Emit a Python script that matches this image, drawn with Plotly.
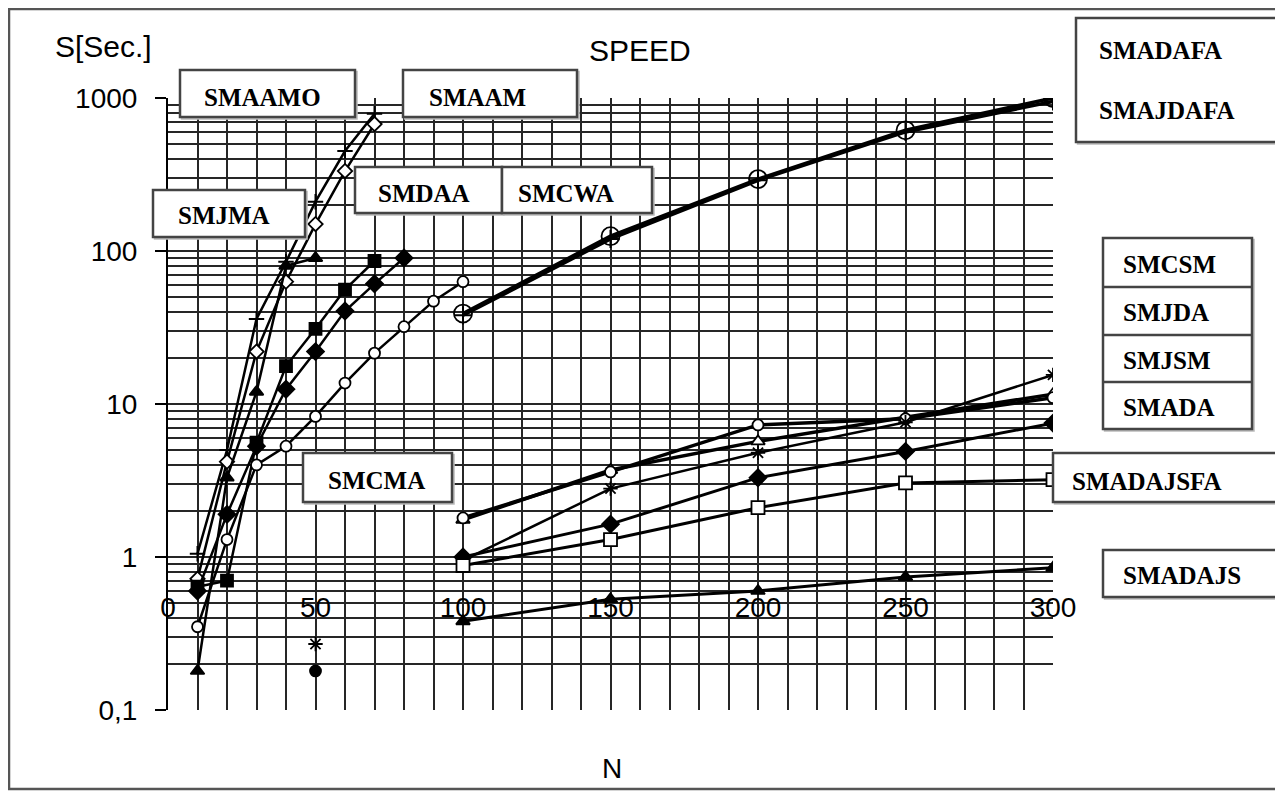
import plotly.graph_objects as go

# ---------------- data ----------------
x_left7 = [10, 20, 30, 40, 50, 60, 70]
smaamo_plus = [1.05, 5.0, 36, 85, 210, 450, 790]
smaam_diam = [0.72, 4.2, 22, 63, 150, 333, 676]
x_tri = [10, 20, 30, 40, 50]
smjma_tri = [0.18, 3.3, 12, 80, 90]
smdaa_sq = [0.64, 0.70, 5.6, 17.7, 31, 56, 86]
x_left8 = [10, 20, 30, 40, 50, 60, 70, 80]
smcwa_fdiam = [0.60, 1.9, 5.3, 12.5, 22, 40.5, 61, 90]
x_left10 = [10, 20, 30, 40, 50, 60, 70, 80, 90, 100]
smcma_circ = [0.35, 1.3, 4.0, 5.3, 8.3, 13.7, 21.5, 32, 47, 63]

x_right = [100, 150, 200, 250, 300]
smadafa_circ = [39, 125, 295, 615, 1000]
smajdafa_plus = [38, 120, 290, 600, 950]
smcsm_tri = [1.75, 3.7, 5.7, 8.2, 11.6]
smjda_circ = [1.8, 3.6, 7.3, 8.0, 11.0]
smjsm_star = [0.95, 2.8, 4.8, 7.6, 15.5]
smada_fdiam = [1.0, 1.64, 3.3, 4.9, 7.5]
smadajsfa_sq = [0.88, 1.3, 2.1, 3.05, 3.2]
smadajs_ftri = [0.38, 0.53, 0.60, 0.74, 0.85]

x_out = [50]
out_star = [0.27]
out_dot = [0.18]

x_major_ticks = [0, 50, 100, 150, 200, 250, 300]
x_minor_grid = [v for v in range(10, 300, 10)]
y_ticks = [0.1, 1, 10, 100, 1000]
y_ticktext = ["0,1", "1", "10", "100", "1000"]
y_minor = [m * 10 ** e for e in range(-1, 3) for m in range(2, 10)]

# ---------------- geometry helpers ----------------
OFF = 8  # page body margin
W, H = 1283 - OFF, 792 - OFF
L, R, T, B = 168, 1053, 98, 710  # target pixel positions of plot area


def px(xp):
    return (xp - L) / (R - L)


def py(yp):
    return (B - yp) / (B - T)


fig = go.Figure()


def add(x, y, symbol, fill, size=9, lw=2.5, mlw=1.8, mode="lines+markers", name=""):
    fig.add_trace(go.Scatter(
        x=x, y=y, mode=mode, name=name,
        line=dict(color="black", width=lw),
        marker=dict(symbol=symbol, size=size, color=fill,
                    line=dict(color="black", width=mlw)),
        showlegend=False))


add(x_left7, smaamo_plus, "cross-thin", "black", size=11, mlw=2, name="SMAAMO")
add(x_left7, smaam_diam, "diamond", "white", size=11, name="SMAAM")
add(x_tri, smjma_tri, "triangle-up", "black", size=12, name="SMJMA")
add(x_left7, smdaa_sq, "square", "black", size=12, name="SMDAA")
add(x_left8, smcwa_fdiam, "diamond", "black", size=13, name="SMCWA")
add(x_left10, smcma_circ, "circle", "white", size=11, name="SMCMA")

add(x_right, smadafa_circ, "circle", "rgba(0,0,0,0)", size=18, lw=3.5, name="SMADAFA")
add(x_right, smajdafa_plus, "cross-thin", "black", size=13, lw=3.5, mlw=2, name="SMAJDAFA")
add(x_right, smcsm_tri, "triangle-up", "white", size=12, lw=3.5, name="SMCSM")
add(x_right, smjda_circ, "circle", "white", size=11, lw=3.5, name="SMJDA")
add(x_right, smjsm_star, "asterisk", "black", size=12, lw=2.5, name="SMJSM")
add(x_right, smada_fdiam, "diamond", "black", size=13, lw=3, name="SMADA")
add(x_right, smadajsfa_sq, "square", "white", size=13, lw=3, name="SMADAJSFA")
add(x_right, smadajs_ftri, "triangle-up", "black", size=12, lw=3, name="SMADAJS")

add(x_out, out_star, "asterisk", "black", size=12, mode="markers", name="out1")
add(x_out, out_dot, "circle", "black", size=11, mode="markers", name="out2")

gridc = "#262626"
fig.update_layout(
    width=W, height=H,
    margin=dict(l=L - OFF, r=W - (R - OFF), t=T - OFF, b=H - (B - OFF), pad=0),
    paper_bgcolor="white", plot_bgcolor="white",
    font=dict(family="Liberation Sans, Arial, sans-serif", color="black"),
    xaxis=dict(range=[0, 300], tickvals=x_major_ticks, showgrid=False,
               zeroline=False, showline=False, ticks="",
               anchor="free", position=py(588),
               tickfont=dict(size=28, family="Liberation Sans, Arial"),
               minor=dict(tickvals=x_minor_grid, showgrid=True,
                          gridcolor=gridc, gridwidth=2.4, ticks="")),
    yaxis=dict(type="log", range=[-1, 3], tickvals=y_ticks, ticktext=y_ticktext,
               showgrid=True, gridcolor=gridc, gridwidth=2.4,
               zeroline=False, showline=True, linecolor="black", linewidth=2,
               ticks="outside", ticklen=11, tickwidth=2, tickcolor="black",
               ticklabelstandoff=12,
               tickfont=dict(size=28, family="Liberation Sans, Arial"),
               minor=dict(tickvals=y_minor, showgrid=True,
                          gridcolor=gridc, gridwidth=2.4, ticks="")),
)

shapes = []
# outer border
shapes.append(dict(type="rect", xref="paper", yref="paper",
                   x0=px(9), x1=px(1278), y0=py(789), y1=py(9),
                   line=dict(color="#555", width=2.5), fillcolor="rgba(0,0,0,0)",
                   layer="below"))


def box(x0, y0, x1, y1):
    shapes.append(dict(type="rect", xref="paper", yref="paper",
                       x0=px(x0) + 0.002, x1=px(x1) + 0.002,
                       y0=py(y1) - 0.003, y1=py(y0) - 0.003,
                       line=dict(color="#bbb", width=2), fillcolor="#bbb"))
    shapes.append(dict(type="rect", xref="paper", yref="paper",
                       x0=px(x0), x1=px(x1), y0=py(y1), y1=py(y0),
                       line=dict(color="#444", width=2.5), fillcolor="white"))


def hline(x0, x1, yy):
    shapes.append(dict(type="line", xref="paper", yref="paper",
                       x0=px(x0), x1=px(x1), y0=py(yy), y1=py(yy),
                       line=dict(color="#444", width=2.5)))


box(180, 70, 355, 117)
box(403, 70, 577, 117)
box(153, 190, 305, 237)
box(355, 167, 502, 213)
box(502, 167, 652, 213)
box(303, 453, 452, 502)
box(1076, 18, 1277, 142)
box(1103, 238, 1252, 429)
hline(1103, 1252, 287)
hline(1103, 1252, 335)
hline(1103, 1252, 382)
box(1053, 453, 1277, 502)
box(1103, 550, 1277, 597)

fig.update_layout(shapes=shapes)

serif = dict(family="Liberation Serif, Times New Roman, serif", size=25, color="black")
ann = []


def lab(text, xc, yc, anchor="center", font=serif):
    ann.append(dict(text=text, x=px(xc), y=py(yc), xref="paper", yref="paper",
                    showarrow=False, xanchor=anchor, yanchor="middle", font=font))


lab("<b>SMAAMO</b>", 262, 97)
lab("<b>SMAAM</b>", 477, 97)
lab("<b>SMJMA</b>", 224, 215)
lab("<b>SMDAA</b>", 424, 193)
lab("<b>SMCWA</b>", 566, 193)
lab("<b>SMCMA</b>", 376, 480)
lab("<b>SMADAFA</b>", 1097, 50, "left")
lab("<b>SMAJDAFA</b>", 1097, 110, "left")
lab("<b>SMCSM</b>", 1121, 264, "left")
lab("<b>SMJDA</b>", 1121, 312, "left")
lab("<b>SMJSM</b>", 1121, 360, "left")
lab("<b>SMADA</b>", 1121, 407, "left")
lab("<b>SMADAJSFA</b>", 1070, 481, "left")
lab("<b>SMADAJS</b>", 1121, 575, "left")

lab("S[Sec.]", 103, 46, "center", dict(family="Liberation Sans, Arial", size=30, color="black"))
lab("SPEED", 640, 50, "center", dict(family="Liberation Sans, Arial", size=30, color="black"))
lab("N", 612, 768, "center", dict(family="Liberation Sans, Arial", size=28, color="black"))

fig.update_layout(annotations=ann)
fig.write_html("out.html")
